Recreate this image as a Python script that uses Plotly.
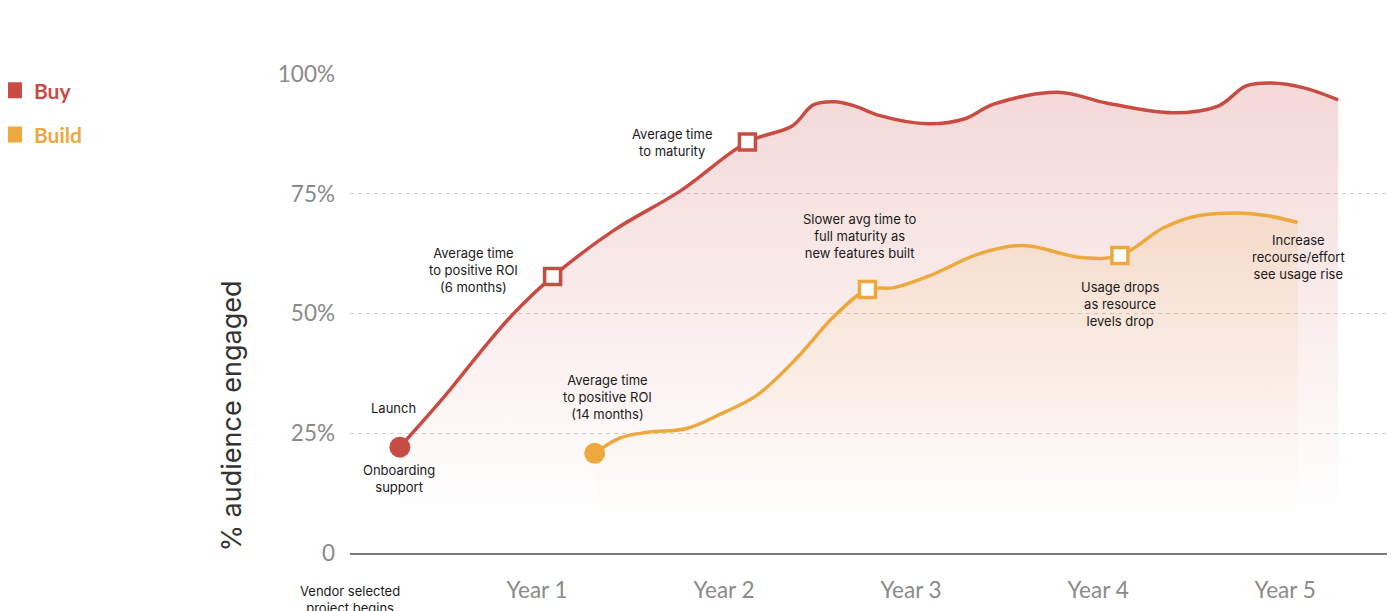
import plotly.graph_objects as go

# ---------------- data ----------------
buy_months = [3.2, 6.2, 8.3, 10.5, 13.0, 16.9, 21.2, 25.5, 28.4, 29.7, 31.1, 32.4, 34.0,
              37.1, 39.4, 41.3, 45.4, 48.6, 52.8, 55.7, 57.5, 59.1, 61.2, 63.4]
buy_values = [22.1, 33.2, 41.7, 50.0, 57.7, 67.3, 75.6, 85.8, 89.2, 93.5, 94.2, 93.3, 91.3,
              89.6, 90.6, 93.7, 96.2, 93.9, 91.9, 93.3, 97.5, 98.1, 97.1, 94.6]
buy_circle_idx = [0]
buy_square_idx = [4, 7]

build_months = [15.7, 17.3, 19.1, 21.6, 23.9, 26.1, 28.7, 31.0, 33.2, 34.9, 37.2, 40.4, 43.2,
                46.9, 49.4, 52.2, 54.4, 56.9, 58.9, 60.8]
build_values = [20.8, 24.0, 25.2, 26.0, 29.2, 32.9, 40.8, 49.2, 55.0, 55.4, 57.9, 62.5, 64.2,
                61.7, 62.1, 67.9, 70.4, 71.0, 70.4, 69.0]
build_circle_idx = [0]
build_square_idx = [8, 14]

x_tick_vals = [12, 24, 36, 48, 60]
x_tick_text = ["Year 1", "Year 2", "Year 3", "Year 4", "Year 5"]
y_tick_vals = [0, 25, 50, 75, 100]
y_tick_text = ["0", "25%", "50%", "75%", "100%"]

notes = [
    ("Launch", 2.76, 30.2),
    ("Onboarding<br>support", 3.14, 15.6),
    ("Average time<br>to positive ROI<br>(6 months)", 7.9, 59.0),
    ("Average time<br>to positive ROI<br>(14 months)", 16.5, 32.5),
    ("Regular ongoing<br>Customer Success<br>Support", 19.2, 107.9),
    ("Average time<br>to maturity", 20.7, 85.6),
    ("Slower avg time to<br>full maturity as<br>new features built", 32.7, 66.25),
    ("Regular customer /<br>community events", 48.1, 106.25),
    ("Usage maintained<br>with existing and<br>new features", 58.7, 107.9),
    ("Usage drops<br>as resource<br>levels drop", 49.4, 51.9),
    ("Increase<br>recourse/effort<br>see usage rise", 60.85, 61.9),
]

BUY = "#C84C44"
BUILD = "#EDA83E"

fig = go.Figure()

# filled areas
fig.add_trace(go.Scatter(
    x=buy_months, y=buy_values, mode="lines", line=dict(width=0, shape="spline"),
    fill="tozeroy",
    fillgradient=dict(type="vertical", start=8, stop=100,
                      colorscale=[[0, "rgba(200,76,68,0)"], [1, "rgba(200,76,68,0.22)"]]),
    showlegend=False, hoverinfo="skip"))
fig.add_trace(go.Scatter(
    x=build_months, y=build_values, mode="lines", line=dict(width=0, shape="spline"),
    fill="tozeroy",
    fillgradient=dict(type="vertical", start=5, stop=72,
                      colorscale=[[0, "rgba(237,168,62,0)"], [1, "rgba(237,168,62,0.15)"]]),
    showlegend=False, hoverinfo="skip"))

# lines
fig.add_trace(go.Scatter(x=buy_months, y=buy_values, mode="lines",
                         line=dict(color=BUY, width=3.5, shape="spline"),
                         showlegend=False, hoverinfo="skip"))
fig.add_trace(go.Scatter(x=build_months, y=build_values, mode="lines",
                         line=dict(color=BUILD, width=3.5, shape="spline"),
                         showlegend=False, hoverinfo="skip"))

# markers
def pick(arr, idx):
    return [arr[i] for i in idx]

for months, values, circ, sq, col in [
    (buy_months, buy_values, buy_circle_idx, buy_square_idx, BUY),
    (build_months, build_values, build_circle_idx, build_square_idx, BUILD),
]:
    fig.add_trace(go.Scatter(x=pick(months, circ), y=pick(values, circ), mode="markers",
                             marker=dict(symbol="circle", size=21, color=col),
                             showlegend=False, hoverinfo="skip", cliponaxis=False))
    fig.add_trace(go.Scatter(x=pick(months, sq), y=pick(values, sq), mode="markers",
                             marker=dict(symbol="square", size=16, color="white",
                                         line=dict(color=col, width=3.5)),
                             showlegend=False, hoverinfo="skip", cliponaxis=False))

# legend entries
fig.add_trace(go.Scatter(x=[None], y=[None], mode="markers", legendgroup="buy",
                         name=f"<span style='color:{BUY}'>Buy</span>",
                         marker=dict(symbol="square", size=16, color=BUY)))
fig.add_trace(go.Scatter(x=[None], y=[None], mode="markers", legendgroup="build",
                         name=f"<span style='color:{BUILD}'>Build</span>",
                         marker=dict(symbol="square", size=16, color=BUILD)))

for text, x, y in notes:
    fig.add_annotation(text=text, x=x, y=y, xref="x", yref="y", showarrow=False,
                       xanchor="center", yanchor="middle",
                       font=dict(family="Inter", size=13, color="#1a1a1a"))

fig.add_annotation(text="Vendor selected<br>project begins", x=0, y=-0.058, xref="x", yref="paper",
                   showarrow=False, xanchor="center", yanchor="top",
                   font=dict(family="Inter", size=13, color="#1a1a1a"))

fig.add_annotation(text="% audience engaged", x=-0.1146, y=28.5, xref="paper", yref="y",
                   showarrow=False, textangle=-90, xanchor="center", yanchor="middle",
                   font=dict(family="Inter", size=27, color="#333333"))

# the page body adds an 8px offset, so the figure is sized to end at the window edge
fig.update_layout(
    width=1387, height=603,
    margin=dict(l=342, r=7, t=66, b=58, autoexpand=False),
    paper_bgcolor="white", plot_bgcolor="white",
    hovermode=False,
    legend=dict(x=-0.343, y=1.008, xanchor="left", yanchor="top",
                font=dict(family="Lato", size=21, weight=700),
                tracegroupgap=14, bgcolor="rgba(0,0,0,0)", itemclick=False),
    xaxis=dict(range=[0, 66.6], tickvals=x_tick_vals, ticktext=x_tick_text,
               showgrid=False, zeroline=False, showline=True, linecolor="#7a7a7a",
               linewidth=2, ticks="", ticklabelstandoff=16,
               tickfont=dict(family="Lato", size=22.5, color="#8a8a8a")),
    yaxis=dict(range=[0, 100], tickvals=y_tick_vals, ticktext=y_tick_text,
               showgrid=True, gridcolor="#d2d2d2", gridwidth=1, griddash="4px,4px",
               zeroline=False, showline=False, ticks="", ticklabelstandoff=14,
               tickfont=dict(family="Lato", size=22.5, color="#8a8a8a")),
)

fig.write_html("out.html")
